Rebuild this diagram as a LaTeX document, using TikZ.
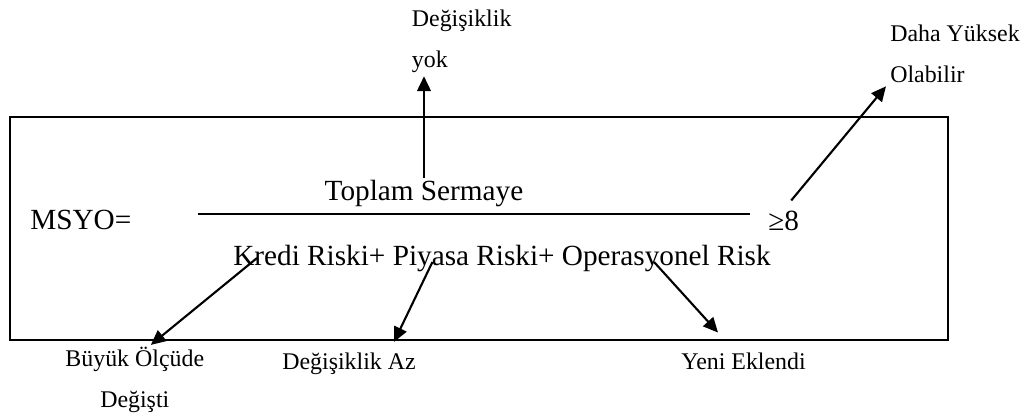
\documentclass[tikz,border=0pt]{standalone}
\usepackage{fontspec}
\setmainfont{Liberation Serif}
\usetikzlibrary{arrows.meta}

\begin{document}
\begin{tikzpicture}[
  ok/.style={line width=1.5pt, -{Triangle[length=0.37cm,width=0.34cm]}},
  etiket/.style={inner sep=0pt, font=\fontsize{17}{29.2}\selectfont},
  yazi/.style={inner sep=0pt, font=\fontsize{20.8}{25}\selectfont}]
\useasboundingbox (0,0) rectangle (25.675,10.475);
%\draw [help lines] (0,0) grid (25,10);
\draw [line width=1.4pt] (0.25,1.975) rectangle (23.7,7.55);
\draw [line width=1.2pt] (4.95,5.125) -- (18.75,5.125);
\node [yazi, anchor=base west] (msyo) at (0.75,4.725) {MSYO=};
\node [yazi, anchor=base] (pay) at (10.6,5.45) {Toplam Sermaye};
\node [yazi, anchor=base] (payda) at (12.55,3.825) {Kredi Riski+ Piyasa Riski+ Operasyonel Risk};
\node [yazi, anchor=base west] (esik) at (19.2,4.7) {≥8};
% aciklamalar (base = son satir)
\node [etiket, align=left, anchor=base west] (degisiklik) at (10.29,8.775) {Değişiklik\\yok};
\node [etiket, align=left, anchor=base west] (yuksek) at (22.25,8.4) {Daha Yüksek\\Olabilir};
\node [etiket, align=center, anchor=base] (olcude) at (3.37,0.275) {Büyük Ölçüde\\Değişti};
\node [etiket, anchor=base] (az) at (8.725,1.225) {Değişiklik Az};
\node [etiket, anchor=base] (yeni) at (18.59,1.225) {Yeni Eklendi};
% oklar
\draw [ok, shorten >=2pt] ([yshift=2pt]pay.north) -- (pay.north |- degisiklik.south);
\draw [ok] ([shift={(0.19,0.27)}]esik.north) -- ([shift={(-0.1,-0.07)}]yuksek.south west);
\draw [ok] ([shift={(0.6,0.2)}]payda.base west) -- ([shift={(0.4,0.06)}]olcude.north);
\draw [ok] ([shift={(4.985,0.1)}]payda.base west) -- ([shift={(-0.55,0.28)}]az.north east);
\draw [ok] ([shift={(10.525,0.1)}]payda.base west) -- ([shift={(-0.64,0.515)}]yeni.north);
\end{tikzpicture}
\end{document}
